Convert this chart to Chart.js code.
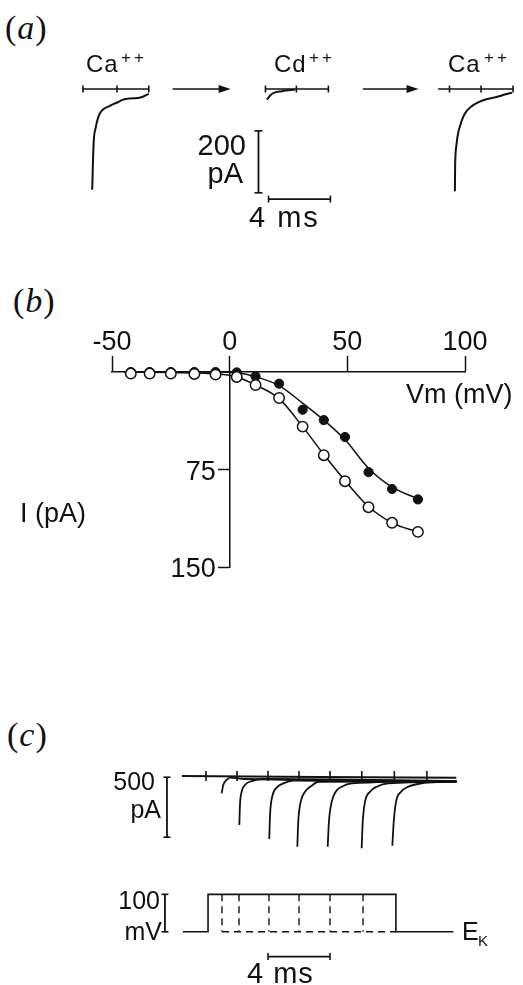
<!DOCTYPE html>
<html>
<head>
<meta charset="utf-8">
<script src="https://cdn.jsdelivr.net/npm/chart.js@4.4.1/dist/chart.umd.min.js"></script>
<style>
html, body { margin: 0; padding: 0; background: #fff; }
#page { position: relative; width: 523px; height: 985px; overflow: hidden; background: #fff; }
#page canvas { position: absolute; left: 0; }
.panel { position: absolute; font-family: "Liberation Serif", serif; font-size: 34px; color: #111; line-height: 1; letter-spacing: 1px; }
.panel i { font-style: italic; }
</style>
</head>
<body>
<div id="page">
  <div class="panel" style="left:5px;top:11px">(<i>a</i>)</div>
  <div class="panel" style="left:13px;top:284px">(<i>b</i>)</div>
  <div class="panel" style="left:7px;top:718px">(<i>c</i>)</div>
  <canvas id="chartA" width="523" height="240" style="top:0px"></canvas>
  <canvas id="chartB" width="523" height="360" style="top:240px"></canvas>
  <canvas id="chartC1" width="523" height="130" style="top:740px"></canvas>
  <canvas id="chartC2" width="523" height="115" style="top:870px"></canvas>
</div>
<script>
// ---- (a) single-channel sweeps: time in ms (shared time base), current in pA (inward < 0)
const sweepStart = [0, 11.8, 22.97];
const sweepEnd = [4.26, 15.87, 27.81];
const sweepTicks = [0, 2.2, 4.26, 11.8, 13.8, 15.87, 23.7, 25.74, 27.81];
const ca1Time = [0.60, 0.65, 0.71, 0.82, 0.97, 1.14, 1.35, 1.68, 2.00, 2.28, 2.54, 2.97, 3.50, 3.83, 4.15, 4.26];
const ca1Curr = [-325, -230, -160, -126, -94, -75, -64, -56, -48, -42, -35, -31, -29, -26, -18, -16];
const cdTime = [11.89, 12.21, 12.86, 13.72];
const cdCurr = [-34, -16, -7, -2];
const ca2Time = [24.05, 24.06, 24.08, 24.15, 24.26, 24.41, 24.58, 24.79, 25.12, 25.55, 26.08, 26.73, 27.27, 27.74];
const ca2Curr = [-330, -265, -222, -180, -142, -115, -91, -72, -56, -43, -33, -26, -18, -12];

// ---- (b) I-V relation: Vm in mV, I in pA (plotted downward)
const vm = [-42, -34, -25, -15, -6, 3, 11, 21, 31, 40, 49, 59, 69, 80];
const iFilled = [0, 0, 0, 0, 0, 0.3, 3.4, 9, 29, 37, 50, 77, 90, 98];
const iOpen = [1.2, 1.2, 1.2, 1.5, 2, 3.8, 10, 20, 42, 64, 84, 104, 116, 123];
// smooth curves drawn through each set
const fitVm = [-45, -5, 3, 11, 21, 31, 40, 49, 59, 69, 80];
const fitFilled = [0, 0, 0.6, 3.6, 10.5, 24, 37, 52, 74, 88.5, 97.5];
const fitOpen = [0, 1.5, 3.8, 10, 20.5, 42, 63.5, 83.5, 103.5, 116, 123];
const vmTicks = [-50, 0, 50, 100];
const iTicks = [75, 150];

// ---- (c) tail currents after pulses of growing length: ms, pA
const baseTime = [0, 17.7];
const baseCurr = [0, -15];
const baseTicks = [1.55, 3.55, 5.55, 7.55, 9.55, 11.6, 13.7, 15.8];
const tail1Time = [2.56, 2.66, 2.88, 3.10, 4.06, 17.7];
const tail1Curr = [-144, -75, -33, -14, -25, -40];
const tail2Time = [3.70, 3.74, 3.85, 4.06, 4.50, 5.25, 17.7];
const tail2Curr = [-408, -242, -131, -75, -42, -25, -42];
const tail3Time = [5.63, 5.68, 5.85, 6.11, 6.54, 7.18, 17.7];
const tail3Curr = [-525, -325, -158, -97, -61, -39, -45];
const tail4Time = [7.44, 7.50, 7.66, 7.94, 8.37, 8.79, 17.7];
const tail4Curr = [-589, -381, -214, -131, -81, -48, -45];
const tail5Time = [9.40, 9.48, 9.66, 9.92, 10.30, 10.95, 17.7];
const tail5Curr = [-589, -381, -214, -131, -89, -61, -45];
const tail6Time = [11.59, 11.66, 11.81, 12.13, 12.56, 13.31, 17.7];
const tail6Curr = [-602, -381, -214, -131, -89, -61, -48];
const tail7Time = [13.57, 13.66, 13.81, 14.13, 14.60, 15.46, 16.75, 17.74];
const tail7Curr = [-581, -381, -214, -131, -89, -61, -50, -48];
// voltage protocol: mV relative to E_K
const pulseTime = [0.06, 1.68, 1.68, 13.8, 13.8, 17.5];
const pulseVolt = [0, 0, 100, 100, 0, 0];
const stepTimes = [2.58, 3.68, 5.61, 7.55, 9.55, 11.68];

const ink = '#111';
const sans = '"Liberation Sans", Arial, sans-serif';
Chart.defaults.font.family = sans;
Chart.defaults.color = ink;

const xy = (xs, ys) => xs.map((x, i) => ({ x: x, y: ys[i] }));

function trace(xs, ys, w) {
  return { data: xy(xs, ys), showLine: true, borderColor: ink, borderWidth: w || 1.8,
    pointRadius: 0, cubicInterpolationMode: 'monotone', clip: false };
}
function straight(pts, w, dash) {
  return { data: pts, showLine: true, borderColor: ink, borderWidth: w || 1.6,
    borderDash: dash || [], pointRadius: 0, tension: 0, clip: false, spanGaps: false };
}
function marks(pts, r, rot) {
  return { data: pts, showLine: false, pointStyle: 'line', pointRadius: r, pointRotation: rot,
    pointBorderColor: ink, pointBorderWidth: 1.6, clip: false };
}
function bar(pts, capRot, r) {
  return [straight(pts, 1.8), marks(pts, r || 4, capRot)];
}

// draws text items (canvas pixels); items may be a function of the chart
const textPlugin = {
  id: 'texts',
  afterDraw(chart, args, opts) {
    const ctx = chart.ctx;
    const items = typeof opts.items === 'function' ? opts.items(chart) : (opts.items || []);
    ctx.save();
    ctx.fillStyle = ink;
    ctx.textBaseline = 'alphabetic';
    items.forEach(t => {
      ctx.font = t.font;
      ctx.textAlign = t.align || 'left';
      ctx.letterSpacing = t.ls || '0px';
      ctx.fillText(t.text, t.x, t.y);
    });
    ctx.restore();
  }
};

// arrows between sweeps, along the zero-current level
const arrowPlugin = {
  id: 'arrows',
  afterDatasetsDraw(chart, args, opts) {
    const ctx = chart.ctx, xs = chart.scales.x, ys = chart.scales.y;
    ctx.save();
    ctx.strokeStyle = ink; ctx.fillStyle = ink; ctx.lineWidth = 1.6;
    (opts.list || []).forEach(a => {
      const x0 = xs.getPixelForValue(a[0]), x1 = xs.getPixelForValue(a[1]), y = ys.getPixelForValue(0);
      ctx.beginPath(); ctx.moveTo(x0, y); ctx.lineTo(x1 - 8, y); ctx.stroke();
      ctx.beginPath(); ctx.moveTo(x1, y); ctx.lineTo(x1 - 12, y - 4); ctx.lineTo(x1 - 12, y + 4); ctx.closePath(); ctx.fill();
    });
    ctx.restore();
  }
};

const baseOpts = (padding) => ({
  animation: false, responsive: false, events: [],
  layout: { padding: padding },
  plugins: { legend: { display: false }, tooltip: { enabled: false } }
});

// ---------- panel (a)
const optsA = baseOpts({ left: 4.5, right: 7, top: 11.5, bottom: 11.5 });
optsA.scales = {
  x: { type: 'linear', min: -5, max: 28, display: false },
  y: { type: 'linear', min: -450, max: 250, display: false }
};
optsA.plugins.arrows = { list: [[5.8, 9.55], [18.1, 21.7]] };
const fA = '24px ' + sans, fAs = '17px ' + sans, fAb = '29px ' + sans;
optsA.plugins.texts = { items: [
  { text: 'Ca', x: 86, y: 72, font: fA, ls: '1px' }, { text: '++', x: 121, y: 63, font: fAs, ls: '3px' },
  { text: 'Cd', x: 274, y: 72, font: fA, ls: '1px' }, { text: '++', x: 309, y: 63, font: fAs, ls: '3px' },
  { text: 'Ca', x: 448, y: 72, font: fA, ls: '1px' }, { text: '++', x: 484, y: 63, font: fAs, ls: '3px' },
  { text: '200', x: 246, y: 155, font: fAb, align: 'right' },
  { text: 'pA', x: 243, y: 183, font: fAb, align: 'right' },
  { text: '4 ms', x: 249, y: 227, font: fAb, ls: '2px' }
] };
const dsA = [];
sweepStart.forEach((s, i) => dsA.push(straight([{ x: s, y: 0 }, { x: sweepEnd[i], y: 0 }], 1.6)));
dsA.push(marks(sweepTicks.map(t => ({ x: t, y: 0 })), 3.5, 90));
dsA.push(trace(ca1Time, ca1Curr, 2), trace(cdTime, cdCurr, 2), trace(ca2Time, ca2Curr, 2));
dsA.push(...bar([{ x: 11.35, y: -135 }, { x: 11.35, y: -335 }], 0, 4));
dsA.push(...bar([{ x: 12.0, y: -355 }, { x: 16.0, y: -355 }], 90, 3.5));
new Chart(document.getElementById('chartA'), {
  type: 'scatter', data: { datasets: dsA }, options: optsA, plugins: [textPlugin, arrowPlugin]
});

// ---------- panel (b)
const optsB = baseOpts({ left: 112, right: 58, top: 72, bottom: 33 });
optsB.scales = {
  x: {
    type: 'linear', position: 'top', min: -50, max: 100,
    afterFit(s) { s.height = 60; },
    afterBuildTicks(s) { s.ticks = vmTicks.map(v => ({ value: v })); },
    grid: { drawOnChartArea: false, tickLength: 16, tickWidth: 1.5, tickColor: ink },
    border: { color: ink, width: 1.5 },
    ticks: { color: ink, font: { size: 27 }, padding: -3, maxRotation: 0 }
  },
  y: {
    type: 'linear', position: { x: 0 }, reverse: true, min: 0, max: 150,
    afterFit(s) { s.width = 0; },
    afterBuildTicks(s) { s.ticks = iTicks.map(v => ({ value: v })); },
    grid: { drawOnChartArea: false, tickLength: 11, tickWidth: 1.5, tickColor: ink },
    border: { color: ink, width: 1.5 },
    ticks: { callback: () => '' }
  }
};
optsB.plugins.texts = { items: chart => {
  const xs = chart.scales.x, ys = chart.scales.y, f = '27px ' + sans;
  const out = iTicks.map(v => ({ text: String(v), x: xs.getPixelForValue(0) - 14, y: ys.getPixelForValue(v) + 10, font: f, align: 'right' }));
  out.push({ text: 'Vm (mV)', x: 406, y: 163, font: f }, { text: 'I (pA)', x: 20, y: 282, font: f });
  return out;
} };
const curve = (ys) => ({ data: xy(fitVm, ys), showLine: true, borderColor: ink, borderWidth: 1.5,
  cubicInterpolationMode: 'monotone', pointRadius: 0, clip: false, order: 2 });
new Chart(document.getElementById('chartB'), {
  type: 'scatter',
  data: { datasets: [
    { data: xy(vm, iOpen), showLine: false,
      pointRadius: 5.2, pointBackgroundColor: '#fff', pointBorderColor: ink, pointBorderWidth: 1.5, clip: false, order: 0 },
    { data: xy(vm, iFilled), showLine: false,
      pointRadius: 4.6, pointBackgroundColor: ink, pointBorderColor: ink, pointBorderWidth: 1, clip: false, order: 1 },
    curve(fitOpen),
    curve(fitFilled)
  ] },
  options: optsB, plugins: [textPlugin]
});

// ---------- panel (c), current traces
const padC = { left: 151, right: 31, top: 12, bottom: 10 };
const optsC1 = baseOpts(padC);
optsC1.scales = {
  x: { type: 'linear', min: -2, max: 20, display: false },
  y: { type: 'linear', min: -700, max: 200, display: false }
};
optsC1.plugins.texts = { items: [
  { text: '500', x: 155, y: 50, font: '25px ' + sans, align: 'right' },
  { text: 'pA', x: 161, y: 78, font: '25px ' + sans, align: 'right' }
] };
const dsC1 = [trace(baseTime, baseCurr, 2), marks(baseTicks.map(t => ({ x: t, y: 0 })), 5, 90)];
[[tail1Time, tail1Curr], [tail2Time, tail2Curr], [tail3Time, tail3Curr], [tail4Time, tail4Curr],
 [tail5Time, tail5Curr], [tail6Time, tail6Curr], [tail7Time, tail7Curr]]
  .forEach(p => dsC1.push(trace(p[0], p[1], 1.8)));
dsC1.push(...bar([{ x: -0.97, y: -10 }, { x: -0.97, y: -510 }], 0, 3.5));
new Chart(document.getElementById('chartC1'), {
  type: 'scatter', data: { datasets: dsC1 }, options: optsC1, plugins: [textPlugin]
});

// ---------- panel (c), voltage protocol
const optsC2 = baseOpts({ left: 151, right: 31, top: 1.5, bottom: 8.2 });
optsC2.scales = {
  x: { type: 'linear', min: -2, max: 20, display: false },
  y: { type: 'linear', min: -120, max: 150, display: false }
};
optsC2.plugins.texts = { items: [
  { text: '100', x: 160, y: 39, font: '25px ' + sans, align: 'right' },
  { text: 'mV', x: 162, y: 70, font: '25px ' + sans, align: 'right' },
  { text: 'E', x: 462, y: 70, font: '25px ' + sans },
  { text: 'K', x: 478, y: 76, font: '15px ' + sans },
  { text: '4 ms', x: 247, y: 113, font: '29px ' + sans, ls: '1px' }
] };
const dashPts = [];
stepTimes.forEach(t => { dashPts.push({ x: t, y: 100 }, { x: t, y: 0 }, { x: t, y: null }); });
dashPts.push({ x: stepTimes[0], y: 0 }, { x: pulseTime[3], y: 0 });
const dsC2 = [
  straight(xy(pulseTime, pulseVolt), 1.6),
  straight(dashPts, 1.4, [7, 5])
];
dsC2.push(...bar([{ x: -1.1, y: 0 }, { x: -1.1, y: 100 }], 0, 3.5));
dsC2.push(...bar([{ x: 5.55, y: -66 }, { x: 9.55, y: -66 }], 90, 3.5));
new Chart(document.getElementById('chartC2'), {
  type: 'scatter', data: { datasets: dsC2 }, options: optsC2, plugins: [textPlugin]
});
</script>
</body>
</html>
